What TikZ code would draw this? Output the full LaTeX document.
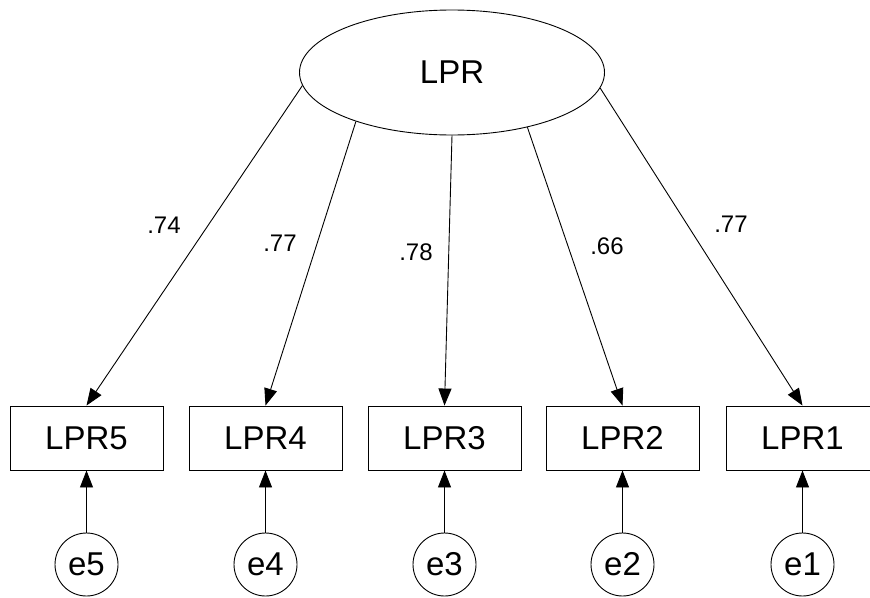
\documentclass[tikz,border=0pt]{standalone}
\usepackage{fontspec}
\setmainfont{Liberation Sans}
\usetikzlibrary{arrows.meta,shapes.geometric}
\begin{document}
\begin{tikzpicture}[x=1pt,y=-1pt,
  line width=0.9pt,
  latent/.style={draw,ellipse,inner sep=0pt,minimum width=305pt,minimum height=125pt,
    font=\fontsize{33}{36}\selectfont},
  observed/.style={draw,rectangle,inner sep=0pt,minimum width=153pt,minimum height=64pt,
    font=\fontsize{33}{36}\selectfont},
  errnode/.style={draw,circle,inner sep=0pt,minimum size=63pt,
    font=\fontsize{33}{36}\selectfont},
  loading/.style={font=\fontsize{24}{26}\selectfont},
  path/.style={-{Triangle[length=17pt,width=13pt]}}]
\useasboundingbox (0,0) rectangle (870,597);

% latent factor
\node[latent] (lpr) at (452,72.5) {LPR};

% indicators
\node[observed] (b5) at (86.5,438) {LPR5};
\node[observed] (b4) at (265.5,438) {LPR4};
\node[observed] (b3) at (444.5,438) {LPR3};
\node[observed] (b2) at (622.5,438) {LPR2};
\node[observed] (b1) at (802.5,438) {LPR1};

% error terms
\node[errnode] (e5) at (86.5,564.5) {e5};
\node[errnode] (e4) at (265.5,564.5) {e4};
\node[errnode] (e3) at (444.5,564.5) {e3};
\node[errnode] (e2) at (622.5,564.5) {e2};
\node[errnode] (e1) at (802.5,564.5) {e1};

% factor loadings
\draw[path] (lpr.185.7) -- (b5.north);
\draw[path] (lpr.207.8) -- (b4.north);
\draw[path] (lpr.270)   -- (b3.north);
\draw[path] (lpr.324.8) -- (b2.north);
\draw[path] (lpr.354.2) -- (b1.north);

\node[loading] (l5) at (164,225) {.74};
\node[loading] (l4) at (280,243) {.77};
\node[loading] (l3) at (416,252) {.78};
\node[loading] (l2) at (607,246) {.66};
\node[loading] (l1) at (731,224) {.77};

% error paths
\foreach \i in {1,...,5} \draw[path] (e\i) -- (b\i);
\end{tikzpicture}
\end{document}
